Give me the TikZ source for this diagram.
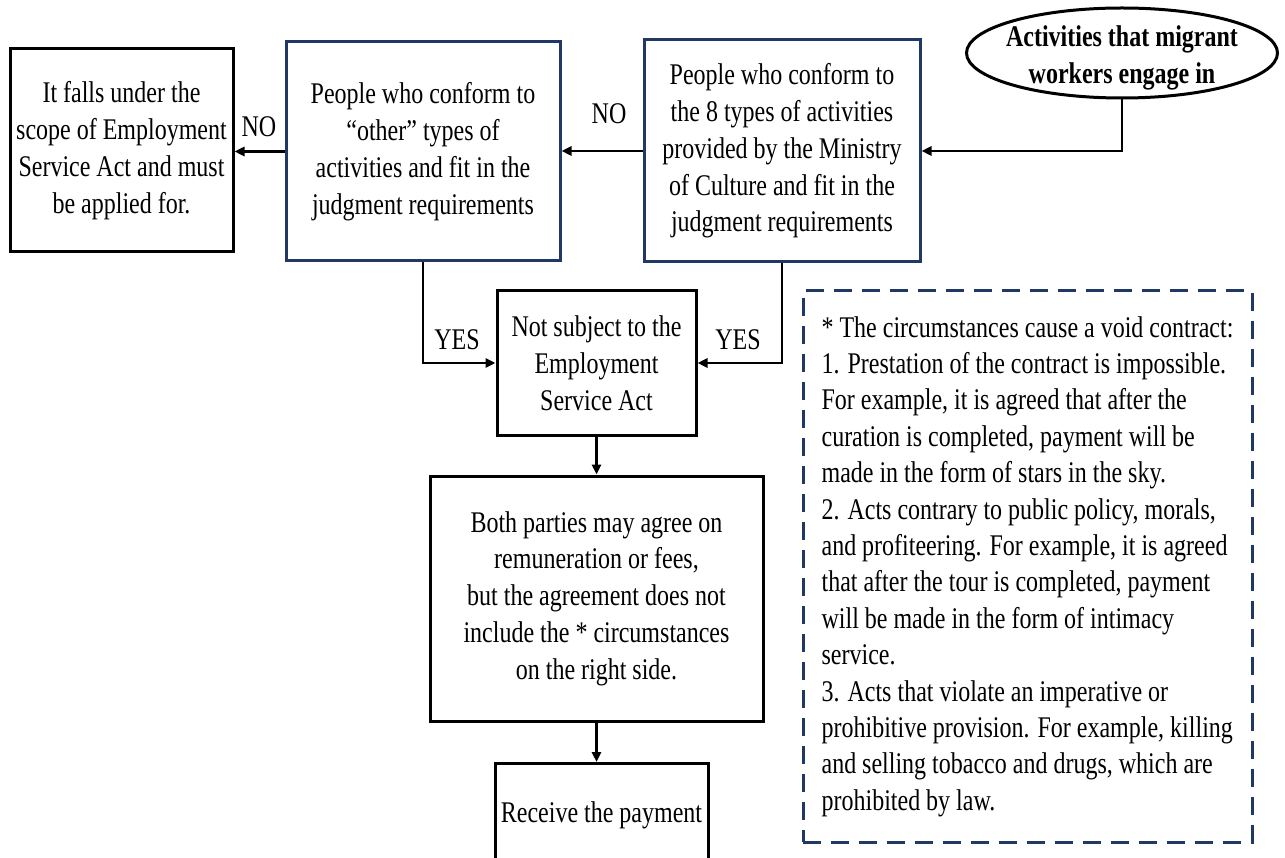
\documentclass[tikz,border=0pt]{standalone}
\usepackage{fontspec}
\setmainfont{Liberation Serif}[FakeStretch=0.8]
\usetikzlibrary{arrows.meta,shapes.geometric}
\definecolor{navy}{RGB}{31,56,100}
\begin{document}
\begin{tikzpicture}[x=1pt,y=-1pt,
		box/.style={draw, line width=3pt, align=center, inner sep=0pt, font=\fontsize{30}{36.8}\selectfont},
		arr/.style={line width=2.5pt, -{Triangle[length=10pt,width=9pt]}},
		lbl/.style={font=\fontsize{30}{36}\selectfont}]
		\useasboundingbox (0,0) rectangle (1285,858);
		% decision boxes along the top
		\node[box, minimum width=223pt, minimum height=203pt] (applied) at (121.5,150.5) {It falls under the\\scope of Employment\\Service Act and must\\be applied for.};
		\node[box, draw=navy, minimum width=274pt, minimum height=219pt] (other) at (423,151.5) {People who conform to\\``other'' types of\\activities and fit in the\\judgment requirements};
		\node[box, draw=navy, minimum width=276pt, minimum height=222pt] (eight) at (782,151) {People who conform to\\the 8 types of activities\\provided by the Ministry\\of Culture and fit in the\\judgment requirements};
		\node[ellipse, draw, line width=3pt, minimum width=311pt, minimum height=90pt, inner sep=0pt,
			label={[name=acttext, yshift=-5pt, font=\fontsize{30}{37}\selectfont\bfseries, align=center]center:Activities that migrant\\workers engage in}] (act) at (1122,53) {};
		
		% boxes down the middle
		\node[box, minimum width=199pt, minimum height=144pt] (notsub) at (596.5,363) {Not subject to the\\Employment\\Service Act};
		\node[box, minimum width=333pt, minimum height=245pt] (agree) at (596.5,598.5) {Both parties may agree on\\remuneration or fees,\\but the agreement does not\\include the * circumstances\\on the right side.};
		\node[box, minimum width=213pt, text height=59pt, text depth=59pt, anchor=north] (pay) at (601.5,762) {Receive the payment};
		
		% the note on the right
		\node[draw=navy, line width=3pt, dash pattern=on 18pt off 10pt, minimum width=449pt, minimum height=551pt, inner sep=0pt, align=left, font=\fontsize{30}{36.4}\selectfont] (note) at (1027.5,566.5) {* The circumstances cause a void contract:\\1. Prestation of the contract is impossible.\\For example, it is agreed that after the\\curation is completed, payment will be\\made in the form of stars in the sky.\\2. Acts contrary to public policy, morals,\\and profiteering. For example, it is agreed\\that after the tour is completed, payment\\will be made in the form of intimacy\\service.\\3. Acts that violate an imperative or\\prohibitive provision. For example, killing\\and selling tobacco and drugs, which are\\prohibited by law.};
		
		\node[lbl] (noleft) at (259,127) {NO};
		\node[lbl] (noright) at (609,114) {NO};
		\node[lbl] (yesleft) at (457,340) {YES};
		\node[lbl] (yesright) at (738,340) {YES};
		
		\draw[arr] (act.south) |- (eight.east);
		\draw[arr] (eight.west) -- (eight.west -| other.east);
		\draw[arr] (other.west) -- (other.west -| applied.east);
		\draw[arr] (other.south) |- (notsub.west);
		\draw[arr] (eight.south) |- (notsub.east);
		\draw[arr] (notsub) -- (agree);
		\draw[arr] (agree.south) -- (agree.south |- pay.north);
	\end{tikzpicture}
\end{document}
